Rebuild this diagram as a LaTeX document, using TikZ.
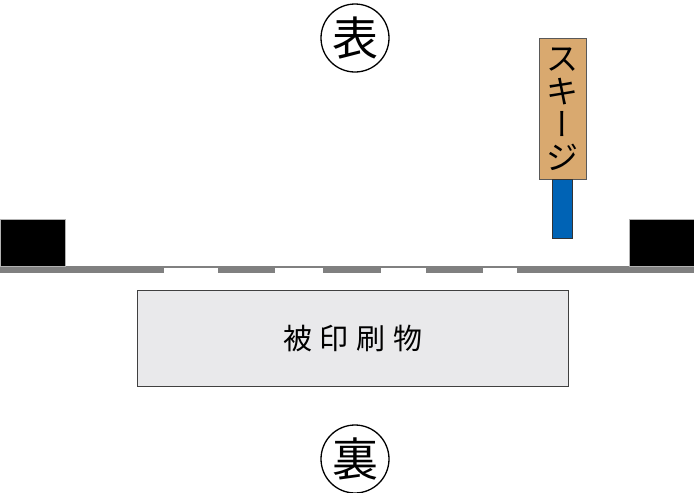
\documentclass[tikz,border=0pt]{standalone}
\usepackage{fontspec}
\newfontfamily\jp{Noto Sans CJK JP}
\newfontfamily\jpv[RawFeature=+vert]{Noto Sans CJK JP}
\definecolor{tan}{HTML}{D9A96F}
\definecolor{sqblue}{HTML}{0063B5}
\definecolor{paper}{HTML}{E9E9EB}
\definecolor{mesh}{HTML}{808080}
\begin{document}
\begin{tikzpicture}[x=1pt,y=-1pt,
  blk/.style={fill=black,draw=gray!60,line width=0.6pt},
  ring/.style={circle,draw=black,line width=1.3pt,minimum size=68pt,inner sep=0pt,font=\jp\fontsize{46}{46}\selectfont}]
\useasboundingbox (0,0) rectangle (694,493);
% screen
\fill[mesh] (0,266) rectangle (694,273);
\foreach \a/\b in {164/218,275/323,381/426,483/517}{\fill[white] (\a,268.3) rectangle (\b,273.5);}
% frames
\node[blk,minimum width=65pt,minimum height=47pt,inner sep=0pt,anchor=north west] (fl) at (0,219) {};
\node[blk,minimum width=66pt,minimum height=47pt,inner sep=0pt,anchor=north west] (fr) at (629,219) {};
% squeegee
\node[fill=tan,draw=gray!70!black,line width=0.6pt,minimum width=47pt,minimum height=141pt,inner sep=0pt,anchor=north west] (sq) at (539,38) {};
\node[fill=sqblue,draw=black!80,line width=0.8pt,minimum width=20pt,minimum height=59pt,inner sep=0pt,anchor=north west] (bl) at (552,179) {};
\node[font=\jp\fontsize{32}{33}\selectfont,align=center,inner sep=0pt] (sqt) at (sq.center) {ス\\[0pt]キ\\[0pt]{\jpv ー}\\[0pt]ジ};
% substrate
\node[fill=paper,draw=black!75,line width=1pt,minimum width=431pt,minimum height=96pt,inner sep=0pt,anchor=north west] (sub) at (137,290) {};
\node[font=\jp\fontsize{29}{29}\selectfont] (subt) at (sub.center) {被\hspace{8pt}印\hspace{8pt}刷\hspace{8pt}物};
% marks
\node[ring] (front) at (355,38) {表};
\node[ring] (back) at (355,459) {裏};
\end{tikzpicture}
\end{document}
